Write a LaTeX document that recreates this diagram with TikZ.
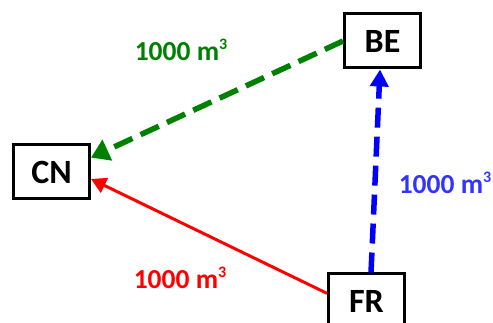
\documentclass[tikz,border=0pt]{standalone}
\usepackage{fontspec}
\setmainfont{Carlito}
\usetikzlibrary{arrows.meta}
\definecolor{cgreen}{RGB}{0,128,0}
\definecolor{cblue}{RGB}{0,0,255}
\definecolor{cblue2}{RGB}{51,51,255}
\definecolor{cred}{RGB}{255,0,0}
\newcommand{\cubic}{\raisebox{0.42em}{\fontsize{16}{16}\selectfont 3}}
\begin{document}
\begin{tikzpicture}[x=1pt,y=-1pt,
  country/.style={draw=black,line width=3pt,minimum width=76pt,minimum height=54pt,inner sep=0pt,font=\fontsize{34}{34}\selectfont\bfseries},
  flowlabel/.style={font=\fontsize{27.5}{27.5}\selectfont\bfseries,inner sep=0pt},
  dashflow/.style={line width=5.5pt,dash pattern=on 20pt off 9pt},
]
\useasboundingbox (0,0) rectangle (493,323);
\node[country] (CN) at (51.5,172) {CN};
\node[country] (BE) at (382.5,41) {BE};
\node[country] (FR) at (366.5,301) {FR};
\draw[cgreen,dashflow,-{Triangle[length=18pt,width=22pt]}] (BE.west) -- (CN.20);
\draw[cblue,dashflow,-{Triangle[length=17pt,width=18pt]}] (FR.81) -- (BE.265);
\draw[cred,line width=3pt,-{Triangle[length=15pt,width=16pt]}] (FR.169) -- (CN.-10);
\node[flowlabel,text=cgreen] (lg) at (181,50) {1000 m\cubic};
\node[flowlabel,text=cblue2] (lb) at (445,183) {1000 m\cubic};
\node[flowlabel,text=cred] (lr) at (180,278) {1000 m\cubic};
\end{tikzpicture}
\end{document}
